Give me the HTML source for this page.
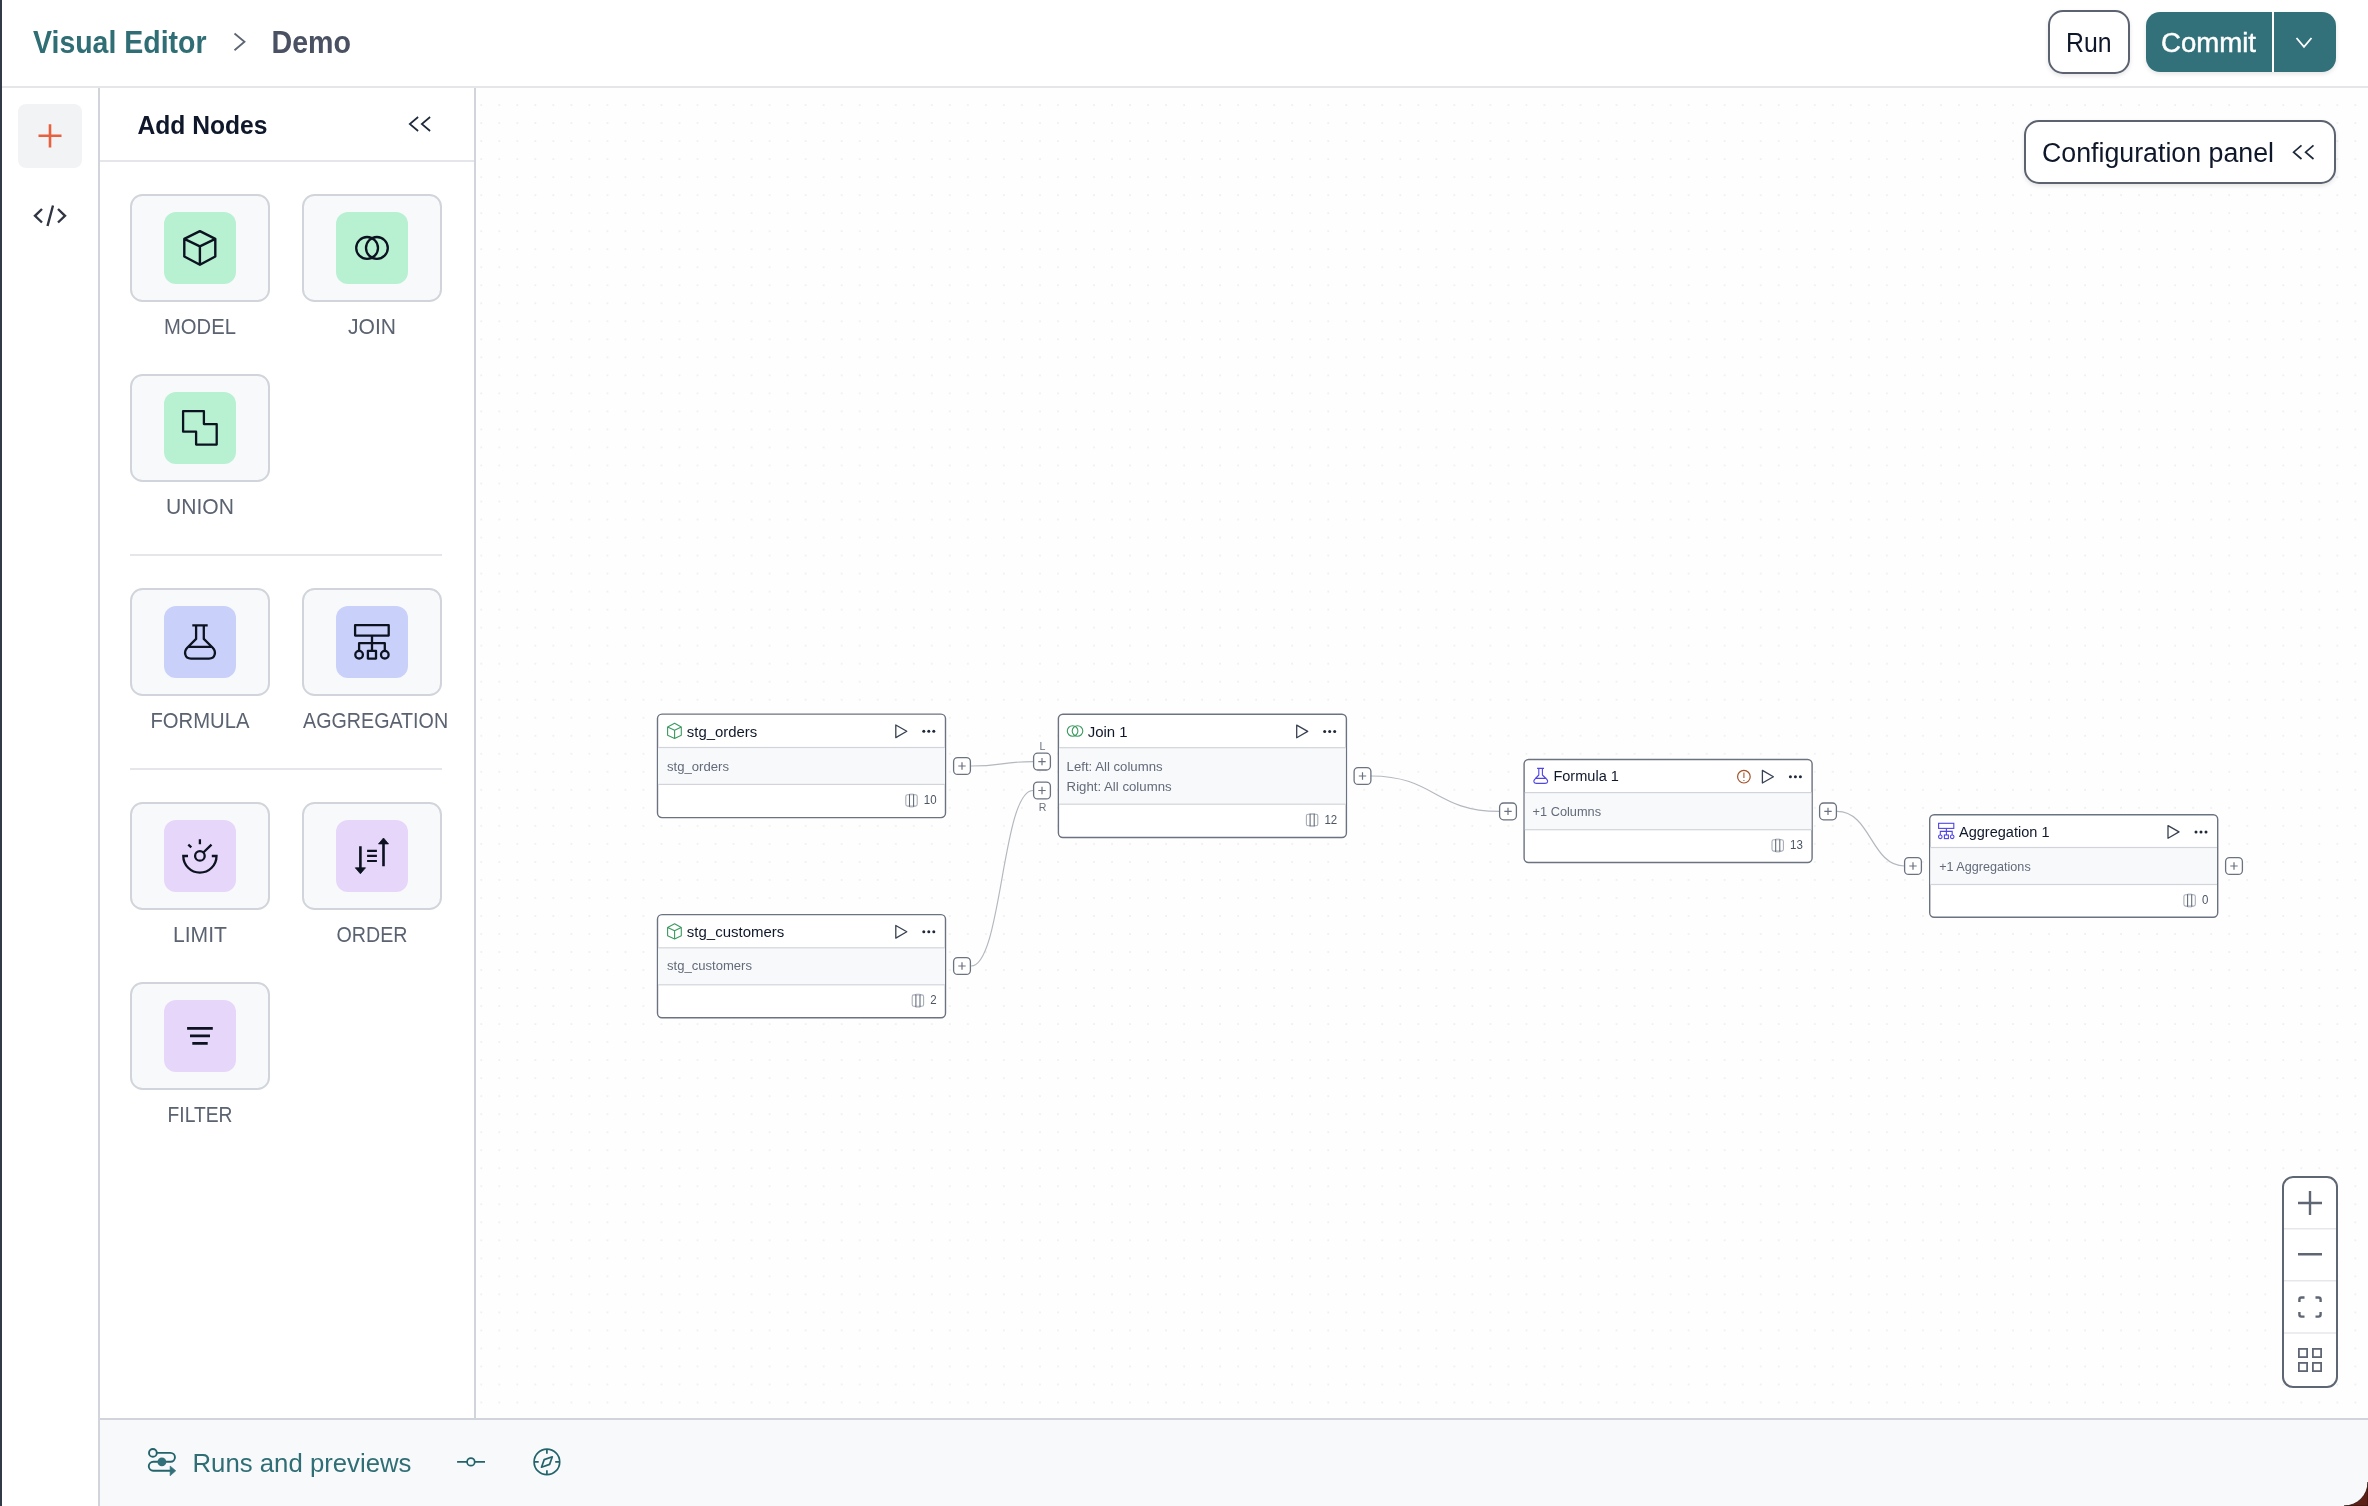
<!DOCTYPE html>
<html><head><meta charset="utf-8"><title>Visual Editor</title>
<style>html,body{margin:0;padding:0;background:#fff;width:2368px;height:1506px;overflow:hidden}</style>
</head><body>
<svg width="2368" height="1506" viewBox="0 0 2368 1506" style="display:block;font-family:'Liberation Sans', sans-serif;will-change:transform"><defs><pattern id="dots" patternUnits="userSpaceOnUse" x="480.3" y="104.1" width="18.02" height="18.02"><circle cx="1" cy="1" r="0.75" fill="#dcdfe3"/></pattern><filter id="sh" x="-10%" y="-30%" width="120%" height="160%"><feDropShadow dx="0" dy="2" stdDeviation="2" flood-color="#000" flood-opacity="0.10"/></filter></defs><rect x="0" y="0" width="2368" height="1506" fill="#ffffff"/><rect x="476" y="88" width="1892" height="1330" fill="#fefefe"/><rect x="476" y="88" width="1892" height="1330" fill="url(#dots)"/><rect x="2" y="86" width="2366" height="2" fill="#e4e6ea"/><rect x="0" y="0" width="2" height="1506" fill="#333a47"/><text x="33" y="53.2" font-size="30.5" font-weight="700" fill="#2f6e74" text-anchor="start" textLength="173.5" lengthAdjust="spacingAndGlyphs">Visual Editor</text><path d="M234.5,33.5 L244.5,41.8 L234.5,50.2" fill="none" stroke="#5d6472" stroke-width="1.8"/><text x="271.5" y="53.2" font-size="30.5" font-weight="700" fill="#4a5162" text-anchor="start" textLength="79.5" lengthAdjust="spacingAndGlyphs">Demo</text><rect x="2049" y="11" width="80" height="62" rx="14" fill="#fff" stroke="#5b6270" stroke-width="2" filter="url(#sh)"/><text x="2066" y="52.4" font-size="26.8" font-weight="400" fill="#0f172a" text-anchor="start" textLength="45.5" lengthAdjust="spacingAndGlyphs">Run</text><rect x="2146" y="12" width="190" height="60" rx="14" fill="#33717a" filter="url(#sh)"/><rect x="2272" y="12" width="2" height="60" fill="#ffffff"/><text x="2161" y="52.4" font-size="26.8" font-weight="400" fill="#ffffff" text-anchor="start" textLength="95" lengthAdjust="spacingAndGlyphs" stroke="#ffffff" stroke-width="0.45">Commit</text><path d="M2296.5,38 L2304,46.8 L2311.5,38" fill="none" stroke="#fff" stroke-width="1.8"/><rect x="98" y="88" width="2" height="1418" fill="#d1d5db"/><rect x="18" y="104" width="64" height="64" rx="8" fill="#f2f3f5"/><path d="M38.5,135.8 H61.5 M50,124.3 V147.5" stroke="#e8613f" stroke-width="2.6" fill="none"/><path d="M42,209 L35,215.8 L42,222.5 M58,209 L65,215.8 L58,222.5 M53,205.5 L47.5,226" stroke="#2f3542" stroke-width="2.4" fill="none"/><rect x="474" y="88" width="2" height="1330" fill="#d1d5db"/><text x="137.5" y="133.9" font-size="26.3" font-weight="700" fill="#0f172a" text-anchor="start" textLength="130" lengthAdjust="spacingAndGlyphs">Add Nodes</text><path d="M418.1,117 L409.8,124 L418.1,131 M430.1,117 L421.8,124 L430.1,131" fill="none" stroke="#1e293b" stroke-width="1.7"/><rect x="100" y="160" width="374" height="2" fill="#e4e6ea"/><rect x="131" y="195" width="138" height="106" rx="11.5" fill="#f8f9fb" stroke="#d1d5db" stroke-width="2"/><rect x="164" y="212" width="72" height="72" rx="12" fill="#b8f1d1"/><path d="M199.9,231.1 L215.3,238.9 L215.3,256.5 L199.9,264.8 L184.3,256.5 L184.3,238.9 Z M184.3,238.9 L199.9,246.3 L215.3,238.9 M199.9,246.3 V264.8" fill="none" stroke="#0c1220" stroke-width="2.4" stroke-linejoin="round"/><text x="200" y="334" font-size="21.4" font-weight="400" fill="#5b6371" text-anchor="middle" textLength="72" lengthAdjust="spacingAndGlyphs">MODEL</text><rect x="303" y="195" width="138" height="106" rx="11.5" fill="#f8f9fb" stroke="#d1d5db" stroke-width="2"/><rect x="336" y="212" width="72" height="72" rx="12" fill="#b8f1d1"/><g fill="none" stroke="#0c1220" stroke-width="2.3"><circle cx="367.1" cy="247.9" r="10.9"/><circle cx="376.9" cy="247.9" r="10.9"/></g><text x="372" y="334" font-size="21.4" font-weight="400" fill="#5b6371" text-anchor="middle" textLength="48" lengthAdjust="spacingAndGlyphs">JOIN</text><rect x="131" y="375" width="138" height="106" rx="11.5" fill="#f8f9fb" stroke="#d1d5db" stroke-width="2"/><rect x="164" y="392" width="72" height="72" rx="12" fill="#b8f1d1"/><path d="M183.1,411.1 H203.9 V424.1 H216.7 V444.6 H196.1 V431.7 H183.1 Z" fill="none" stroke="#0c1220" stroke-width="2.3" stroke-linejoin="round"/><text x="200" y="514" font-size="21.4" font-weight="400" fill="#5b6371" text-anchor="middle" textLength="68" lengthAdjust="spacingAndGlyphs">UNION</text><rect x="130" y="554" width="312" height="2" fill="#e4e6ea"/><rect x="131" y="589" width="138" height="106" rx="11.5" fill="#f8f9fb" stroke="#d1d5db" stroke-width="2"/><rect x="164" y="606" width="72" height="72" rx="12" fill="#c9d1fa"/><path d="M192.3,625.3 H207.7 M196.1,625.3 V638.9 L187.5,647.5 C183.5,651.5 184.5,658.6 191,658.6 H209 C215.5,658.6 216.5,651.5 212.5,647.5 L203.8,638.9 V625.3 M188,646.9 H212" fill="none" stroke="#0c1220" stroke-width="2.3" stroke-linejoin="round"/><text x="200" y="728" font-size="21.4" font-weight="400" fill="#5b6371" text-anchor="middle" textLength="99" lengthAdjust="spacingAndGlyphs">FORMULA</text><rect x="303" y="589" width="138" height="106" rx="11.5" fill="#f8f9fb" stroke="#d1d5db" stroke-width="2"/><rect x="336" y="606" width="72" height="72" rx="12" fill="#c9d1fa"/><g fill="none" stroke="#0c1220" stroke-width="2.3" stroke-linejoin="round"><rect x="355.1" y="625.1" width="33.6" height="10.5"/><path d="M372,635.6 V650.8 M359.1,651 V643.2 H384.8 V651"/><circle cx="359.1" cy="654.7" r="3.8"/><circle cx="384.8" cy="654.7" r="3.8"/><rect x="367.9" y="650.8" width="8.1" height="7.8"/></g><text x="375.6" y="728" font-size="21.4" font-weight="400" fill="#5b6371" text-anchor="middle" textLength="145" lengthAdjust="spacingAndGlyphs">AGGREGATION</text><rect x="130" y="768" width="312" height="2" fill="#e4e6ea"/><rect x="131" y="803" width="138" height="106" rx="11.5" fill="#f8f9fb" stroke="#d1d5db" stroke-width="2"/><rect x="164" y="820" width="72" height="72" rx="12" fill="#e6d7fa"/><g fill="none" stroke="#0c1220" stroke-width="2.3"><path d="M199.9,839.3 V844.3 M188.3,844.6 L191.3,847.4 M211.5,844.6 L203.6,852.3"/><circle cx="199.9" cy="855.9" r="4.8"/><path d="M188,856 H183.3 A16.6,16.6 0 0 0 216.5,856 H211.8"/></g><text x="200" y="942" font-size="21.4" font-weight="400" fill="#5b6371" text-anchor="middle" textLength="54" lengthAdjust="spacingAndGlyphs">LIMIT</text><rect x="303" y="803" width="138" height="106" rx="11.5" fill="#f8f9fb" stroke="#d1d5db" stroke-width="2"/><rect x="336" y="820" width="72" height="72" rx="12" fill="#e6d7fa"/><g stroke="#0c1220" stroke-width="2.6" fill="none"><path d="M360.4,846.3 V869 M383.5,866.2 V843"/><path d="M367.1,850.9 H376.9 M367.1,855.9 H376.9 M367.1,861 H376.9" stroke-width="2.1"/></g><path d="M355.3,867.8 H365.5 L360.4,873.8 Z M378.5,843.9 H388.5 L383.5,838 Z" fill="#0c1220" stroke="#0c1220" stroke-width="0.8" stroke-linejoin="round"/><text x="372" y="942" font-size="21.4" font-weight="400" fill="#5b6371" text-anchor="middle" textLength="71" lengthAdjust="spacingAndGlyphs">ORDER</text><rect x="131" y="983" width="138" height="106" rx="11.5" fill="#f8f9fb" stroke="#d1d5db" stroke-width="2"/><rect x="164" y="1000" width="72" height="72" rx="12" fill="#e6d7fa"/><path d="M187.1,1028.4 H212.8 M190,1035.9 H210 M192.3,1043.4 H207.7" stroke="#0c1220" stroke-width="2.7" fill="none"/><text x="200" y="1122" font-size="21.4" font-weight="400" fill="#5b6371" text-anchor="middle" textLength="65" lengthAdjust="spacingAndGlyphs">FILTER</text><rect x="100" y="1420" width="2268" height="86" fill="#f8f9fb"/><rect x="100" y="1418" width="2268" height="2" fill="#d1d5db"/><text x="192.5" y="1472.2" font-size="26.4" font-weight="400" fill="#2f6e74" text-anchor="start" textLength="219" lengthAdjust="spacingAndGlyphs">Runs and previews</text><g fill="none" stroke="#23646b" stroke-width="1.9"><circle cx="152.9" cy="1452.9" r="3.9"/><path d="M156.8,1452.9 H170.5 A4.45,4.45 0 0 1 170.5,1461.8 H153.2 A4.45,4.45 0 0 0 153.2,1470.7 H171"/></g><circle cx="161.9" cy="1461.9" r="4.4" fill="#33717a"/><path d="M170.1,1466 L175.8,1470.8 L170.1,1475.8 Z" fill="#33717a" stroke="#33717a" stroke-width="0.6"/><g fill="none" stroke="#23646b" stroke-width="1.7"><path d="M457.1,1461.9 H467 M474.8,1461.9 H485"/><circle cx="470.9" cy="1461.9" r="3.8"/></g><g fill="none" stroke="#23646b" stroke-width="1.7"><circle cx="546.9" cy="1461.9" r="12.8"/><path d="M546.9,1449.6 V1453.7 M546.9,1470.2 V1474.3 M534.4,1461.9 H538.7 M555.2,1461.9 H559.4"/><path d="M552.3,1456.8 L549.6,1464.4 L541.5,1467.2 L544.2,1459.6 Z" stroke-linejoin="round"/></g><rect x="2025" y="121" width="310" height="62" rx="14" fill="#fff" stroke="#5b6270" stroke-width="2" filter="url(#sh)"/><text x="2042" y="161.7" font-size="27" font-weight="400" fill="#0f172a" text-anchor="start" textLength="232" lengthAdjust="spacingAndGlyphs">Configuration panel</text><path d="M2301.5,145.3 L2293.6,152.2 L2301.5,159 M2313.5,145.3 L2305.6,152.2 L2313.5,159" fill="none" stroke="#1e293b" stroke-width="1.7"/><g fill="none" stroke="#b4b8bf" stroke-width="1.2"><path d="M971,766 C1002,766 1002,761.6 1033,761.6"/><path d="M971,966 C1002,966 1002,790.5 1033,790.5"/><path d="M1371,776 C1435,776 1435,811.4 1499,811.4"/><path d="M1837,811.4 C1871,811.4 1871,866 1904.6,866"/></g><rect x="657.5" y="714.1" width="288" height="103.5" rx="4.5" fill="#fff" stroke="#6b7280" stroke-width="1.4"/><rect x="658.2" y="747.5" width="286.6" height="36.89999999999998" fill="#f8f9fb"/><rect x="658.2" y="746.9" width="286.6" height="1.2" fill="#d1d5db"/><rect x="658.2" y="783.8" width="286.6" height="1.2" fill="#d1d5db"/><path d="M674.6,723.3 L681.3000000000001,726.9 V735.3 L674.6,738.5 L667.6,735.3 V726.9 Z M667.6,726.9 L674.6,730.3 L681.3000000000001,726.9 M674.6,730.3 V738.5" fill="none" stroke="#3b9a60" stroke-width="1.1" stroke-linejoin="round"/><text x="686.8" y="736.8" font-size="15.2" font-weight="400" fill="#0f172a" text-anchor="start" textLength="70.5" lengthAdjust="spacingAndGlyphs">stg_orders</text><path d="M895.8,725.0000000000001 L906.8,731.3000000000001 L895.8,737.6 Z" fill="none" stroke="#374151" stroke-width="1.3" stroke-linejoin="round"/><g fill="#1e293b"><circle cx="923.8" cy="731.3000000000001" r="1.5"/><circle cx="928.8" cy="731.3000000000001" r="1.5"/><circle cx="933.8" cy="731.3000000000001" r="1.5"/></g><text x="667.0" y="770.7" font-size="13.6" font-weight="400" fill="#636a78" text-anchor="start" textLength="62" lengthAdjust="spacingAndGlyphs">stg_orders</text><text x="923.8000000000001" y="804" font-size="12.2" font-weight="400" fill="#4b5563" text-anchor="start" textLength="12.8" lengthAdjust="spacingAndGlyphs">10</text><g fill="none"><rect x="905.8000000000001" y="794.6999999999999" width="11.4" height="11.4" rx="1.8" stroke="#a7adb7" stroke-width="1.1"/><path d="M909.5,794.0 V807.0 M913.6,794.0 V807.0" stroke="#5f6775" stroke-width="1.05"/><path d="M909.5,794.0 H913.6 M909.5,807.0 H913.6" stroke="#b4b9c2" stroke-width="0.9"/></g><rect x="953.6" y="757.6" width="16.8" height="16.8" rx="4" fill="#fff" stroke="#6b7280" stroke-width="1.3"/><path d="M958.3,766 H965.7 M962,762.3 V769.7" stroke="#6b7280" stroke-width="1.2"/><rect x="657.5" y="914.6" width="288" height="103.2" rx="4.5" fill="#fff" stroke="#6b7280" stroke-width="1.4"/><rect x="658.2" y="947.8" width="286.6" height="37.0" fill="#f8f9fb"/><rect x="658.2" y="947.1999999999999" width="286.6" height="1.2" fill="#d1d5db"/><rect x="658.2" y="984.1999999999999" width="286.6" height="1.2" fill="#d1d5db"/><path d="M674.6,923.8 L681.3000000000001,927.4 V935.8 L674.6,939.0 L667.6,935.8 V927.4 Z M667.6,927.4 L674.6,930.8 L681.3000000000001,927.4 M674.6,930.8 V939.0" fill="none" stroke="#3b9a60" stroke-width="1.1" stroke-linejoin="round"/><text x="686.8" y="936.7" font-size="15.2" font-weight="400" fill="#0f172a" text-anchor="start" textLength="97.5" lengthAdjust="spacingAndGlyphs">stg_customers</text><path d="M895.8,925.5000000000001 L906.8,931.8000000000001 L895.8,938.1 Z" fill="none" stroke="#374151" stroke-width="1.3" stroke-linejoin="round"/><g fill="#1e293b"><circle cx="923.8" cy="931.8000000000001" r="1.5"/><circle cx="928.8" cy="931.8000000000001" r="1.5"/><circle cx="933.8" cy="931.8000000000001" r="1.5"/></g><text x="667.0" y="970.4" font-size="13.6" font-weight="400" fill="#636a78" text-anchor="start" textLength="85" lengthAdjust="spacingAndGlyphs">stg_customers</text><text x="930.2" y="1004.2" font-size="12.2" font-weight="400" fill="#4b5563" text-anchor="start" textLength="6.4" lengthAdjust="spacingAndGlyphs">2</text><g fill="none"><rect x="912.2" y="994.9" width="11.4" height="11.4" rx="1.8" stroke="#a7adb7" stroke-width="1.1"/><path d="M915.9,994.2 V1007.2 M920.0,994.2 V1007.2" stroke="#5f6775" stroke-width="1.05"/><path d="M915.9,994.2 H920.0 M915.9,1007.2 H920.0" stroke="#b4b9c2" stroke-width="0.9"/></g><rect x="953.6" y="957.6" width="16.8" height="16.8" rx="4" fill="#fff" stroke="#6b7280" stroke-width="1.3"/><path d="M958.3,966 H965.7 M962,962.3 V969.7" stroke="#6b7280" stroke-width="1.2"/><rect x="1058.4" y="714.2" width="288" height="123.3" rx="4.5" fill="#fff" stroke="#6b7280" stroke-width="1.4"/><rect x="1059.1000000000001" y="747.7" width="286.6" height="56.5" fill="#f8f9fb"/><rect x="1059.1000000000001" y="747.1" width="286.6" height="1.2" fill="#d1d5db"/><rect x="1059.1000000000001" y="803.6" width="286.6" height="1.2" fill="#d1d5db"/><g fill="none" stroke="#3b9a60" stroke-width="1.1"><circle cx="1072.6" cy="731" r="5.3"/><circle cx="1077.5" cy="731" r="5.3"/></g><text x="1087.7" y="736.8" font-size="15.2" font-weight="400" fill="#0f172a" text-anchor="start" textLength="40" lengthAdjust="spacingAndGlyphs">Join 1</text><path d="M1296.7,725.1000000000001 L1307.7,731.4000000000001 L1296.7,737.7 Z" fill="none" stroke="#374151" stroke-width="1.3" stroke-linejoin="round"/><g fill="#1e293b"><circle cx="1324.7" cy="731.4000000000001" r="1.5"/><circle cx="1329.7" cy="731.4000000000001" r="1.5"/><circle cx="1334.7" cy="731.4000000000001" r="1.5"/></g><text x="1066.6000000000001" y="771.1" font-size="13.6" font-weight="400" fill="#636a78" text-anchor="start" textLength="96" lengthAdjust="spacingAndGlyphs">Left: All columns</text><text x="1066.6000000000001" y="791" font-size="13.6" font-weight="400" fill="#636a78" text-anchor="start" textLength="105" lengthAdjust="spacingAndGlyphs">Right: All columns</text><text x="1324.4" y="823.6" font-size="12.2" font-weight="400" fill="#4b5563" text-anchor="start" textLength="12.8" lengthAdjust="spacingAndGlyphs">12</text><g fill="none"><rect x="1306.4" y="814.3" width="11.4" height="11.4" rx="1.8" stroke="#a7adb7" stroke-width="1.1"/><path d="M1310.1000000000001,813.6 V826.6 M1314.2000000000003,813.6 V826.6" stroke="#5f6775" stroke-width="1.05"/><path d="M1310.1000000000001,813.6 H1314.2000000000003 M1310.1000000000001,826.6 H1314.2000000000003" stroke="#b4b9c2" stroke-width="0.9"/></g><rect x="1033.6" y="753.2" width="16.8" height="16.8" rx="4" fill="#fff" stroke="#6b7280" stroke-width="1.3"/><path d="M1038.3,761.6 H1045.7 M1042,757.9 V765.3000000000001" stroke="#6b7280" stroke-width="1.2"/><rect x="1033.6" y="782.1" width="16.8" height="16.8" rx="4" fill="#fff" stroke="#6b7280" stroke-width="1.3"/><path d="M1038.3,790.5 H1045.7 M1042,786.8 V794.2" stroke="#6b7280" stroke-width="1.2"/><text x="1042.5" y="749.9" font-size="10.6" font-weight="400" fill="#6b7280" text-anchor="middle">L</text><text x="1042.5" y="811" font-size="10.6" font-weight="400" fill="#6b7280" text-anchor="middle">R</text><rect x="1354.1" y="767.6" width="16.8" height="16.8" rx="4" fill="#fff" stroke="#6b7280" stroke-width="1.3"/><path d="M1358.8,776 H1366.2 M1362.5,772.3 V779.7" stroke="#6b7280" stroke-width="1.2"/><rect x="1524.1" y="759.5" width="288" height="103" rx="4.5" fill="#fff" stroke="#6b7280" stroke-width="1.4"/><rect x="1524.8" y="792.6" width="286.6" height="37.10000000000002" fill="#f8f9fb"/><rect x="1524.8" y="792.0" width="286.6" height="1.2" fill="#d1d5db"/><rect x="1524.8" y="829.1" width="286.6" height="1.2" fill="#d1d5db"/><path d="M1537.1,768.4 H1544 M1538.8,768.4 V775 L1535,779 C1533,781 1533.5,783.4 1536.5,783.4 H1545 C1548,783.4 1548.5,781 1546.5,779 L1542.4,775 V768.4 M1535,778.4 H1546.5" fill="none" stroke="#4f46e5" stroke-width="1.1" stroke-linejoin="round"/><text x="1553.3999999999999" y="780.9" font-size="15.2" font-weight="400" fill="#0f172a" text-anchor="start" textLength="65.5" lengthAdjust="spacingAndGlyphs">Formula 1</text><path d="M1762.3999999999999,770.4000000000001 L1773.3999999999999,776.7 L1762.3999999999999,783.0 Z" fill="none" stroke="#374151" stroke-width="1.3" stroke-linejoin="round"/><g fill="#1e293b"><circle cx="1790.3999999999999" cy="776.7" r="1.5"/><circle cx="1795.3999999999999" cy="776.7" r="1.5"/><circle cx="1800.3999999999999" cy="776.7" r="1.5"/></g><circle cx="1743.8999999999999" cy="776.7" r="6.3" fill="none" stroke="#a0532a" stroke-width="1.2"/><path d="M1743.8999999999999,772.6 V778.0 M1743.8999999999999,780.0 V781.0" stroke="#b5714e" stroke-width="1.3"/><text x="1532.6" y="815.9" font-size="13.6" font-weight="400" fill="#636a78" text-anchor="start" textLength="68.5" lengthAdjust="spacingAndGlyphs">+1 Columns</text><text x="1790.0" y="849" font-size="12.2" font-weight="400" fill="#4b5563" text-anchor="start" textLength="12.8" lengthAdjust="spacingAndGlyphs">13</text><g fill="none"><rect x="1772.0" y="839.6999999999999" width="11.4" height="11.4" rx="1.8" stroke="#a7adb7" stroke-width="1.1"/><path d="M1775.7,839.0 V852.0 M1779.8000000000002,839.0 V852.0" stroke="#5f6775" stroke-width="1.05"/><path d="M1775.7,839.0 H1779.8000000000002 M1775.7,852.0 H1779.8000000000002" stroke="#b4b9c2" stroke-width="0.9"/></g><rect x="1499.6" y="803.0" width="16.8" height="16.8" rx="4" fill="#fff" stroke="#6b7280" stroke-width="1.3"/><path d="M1504.3,811.4 H1511.7 M1508,807.6999999999999 V815.1" stroke="#6b7280" stroke-width="1.2"/><rect x="1819.6" y="803.0" width="16.8" height="16.8" rx="4" fill="#fff" stroke="#6b7280" stroke-width="1.3"/><path d="M1824.3,811.4 H1831.7 M1828,807.6999999999999 V815.1" stroke="#6b7280" stroke-width="1.2"/><rect x="1929.7" y="814.7" width="288" height="102.6" rx="4.5" fill="#fff" stroke="#6b7280" stroke-width="1.4"/><rect x="1930.4" y="847.5" width="286.6" height="37.0" fill="#f8f9fb"/><rect x="1930.4" y="846.9" width="286.6" height="1.2" fill="#d1d5db"/><rect x="1930.4" y="883.9" width="286.6" height="1.2" fill="#d1d5db"/><g fill="none" stroke="#4f46e5" stroke-width="1.1"><rect x="1938.6" y="823.3" width="15.2" height="5.1"/><path d="M1946.4,828.4 V835 M1940.3,835 V831.4 H1952.2 V835"/><circle cx="1940.3" cy="836.8" r="1.8"/><circle cx="1952.2" cy="836.8" r="1.8"/><rect x="1944.4" y="835" width="4" height="3.6"/></g><text x="1959.0" y="836.8" font-size="15.2" font-weight="400" fill="#0f172a" text-anchor="start" textLength="90.5" lengthAdjust="spacingAndGlyphs">Aggregation 1</text><path d="M2168.0,825.6000000000001 L2179.0,831.9000000000001 L2168.0,838.2 Z" fill="none" stroke="#374151" stroke-width="1.3" stroke-linejoin="round"/><g fill="#1e293b"><circle cx="2196.0" cy="831.9000000000001" r="1.5"/><circle cx="2201.0" cy="831.9000000000001" r="1.5"/><circle cx="2206.0" cy="831.9000000000001" r="1.5"/></g><text x="1939.2" y="870.7" font-size="13.6" font-weight="400" fill="#636a78" text-anchor="start" textLength="91.5" lengthAdjust="spacingAndGlyphs">+1 Aggregations</text><text x="2201.9" y="904" font-size="12.2" font-weight="400" fill="#4b5563" text-anchor="start" textLength="6.4" lengthAdjust="spacingAndGlyphs">0</text><g fill="none"><rect x="2183.9" y="894.6999999999999" width="11.4" height="11.4" rx="1.8" stroke="#a7adb7" stroke-width="1.1"/><path d="M2187.6000000000004,894.0 V907.0 M2191.7000000000003,894.0 V907.0" stroke="#5f6775" stroke-width="1.05"/><path d="M2187.6000000000004,894.0 H2191.7000000000003 M2187.6000000000004,907.0 H2191.7000000000003" stroke="#b4b9c2" stroke-width="0.9"/></g><rect x="1904.6" y="857.6" width="16.8" height="16.8" rx="4" fill="#fff" stroke="#6b7280" stroke-width="1.3"/><path d="M1909.3,866 H1916.7 M1913,862.3 V869.7" stroke="#6b7280" stroke-width="1.2"/><rect x="2225.6" y="857.6" width="16.8" height="16.8" rx="4" fill="#fff" stroke="#6b7280" stroke-width="1.3"/><path d="M2230.3,866 H2237.7 M2234,862.3 V869.7" stroke="#6b7280" stroke-width="1.2"/><rect x="2283" y="1177" width="54" height="210" rx="10" fill="#fff" stroke="#5f6673" stroke-width="2"/><g stroke="#e5e7eb" stroke-width="1.5"><path d="M2284,1228.8 H2336 M2284,1280.8 H2336 M2284,1332.9 H2336"/></g><path d="M2298,1203 H2322 M2310,1191 V1215 M2298,1254.3 H2322" stroke="#5f6673" stroke-width="2.4" fill="none"/><path d="M2299.4,1302 V1299.5 Q2299.4,1297.5 2301.4,1297.5 H2304.5 M2315.5,1297.5 H2318.6 Q2320.6,1297.5 2320.6,1299.5 V1302 M2320.6,1312 V1314.6 Q2320.6,1316.6 2318.6,1316.6 H2315.5 M2304.5,1316.6 H2301.4 Q2299.4,1316.6 2299.4,1314.6 V1312" stroke="#5f6673" stroke-width="2.4" fill="none"/><g fill="none" stroke="#5f6673" stroke-width="1.8"><rect x="2298.9" y="1348.9" width="8.2" height="8.2"/><rect x="2312.9" y="1348.9" width="8.2" height="8.2"/><rect x="2298.9" y="1362.9" width="8.2" height="8.2"/><rect x="2312.9" y="1362.9" width="8.2" height="8.2"/></g><path d="M2368,1482 V1506 H2344 A24,24 0 0 0 2368,1482 Z" fill="#5c2016" stroke="#2a0d08" stroke-width="0.8"/></svg>
</body></html>
